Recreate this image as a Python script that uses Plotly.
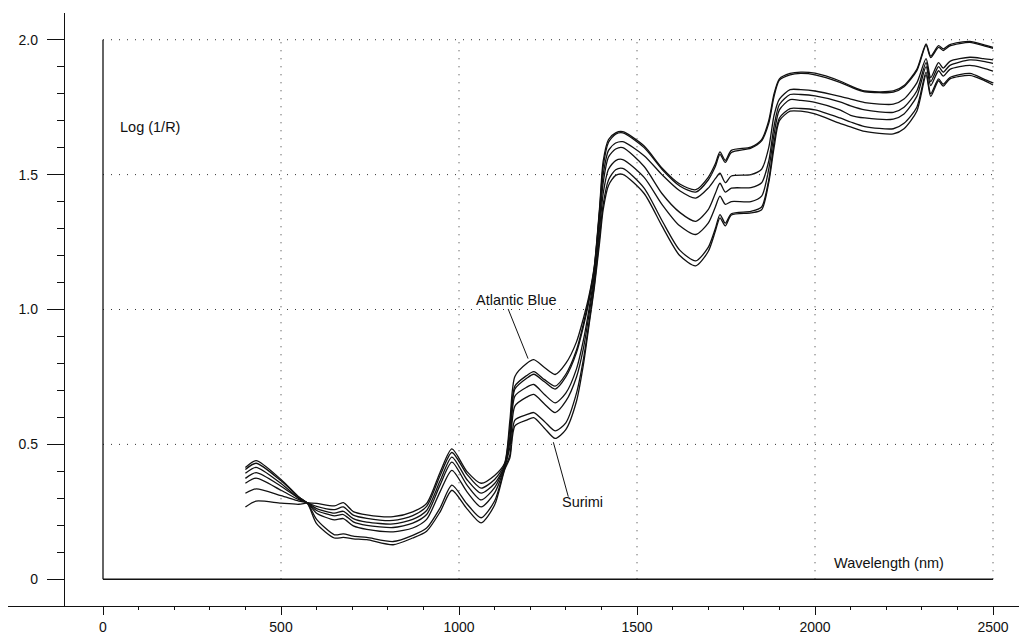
import plotly.graph_objects as go

# Wavelength sampling points (nm)
wavelength_nm = [400, 430, 500, 550, 575, 600, 650, 675, 703, 741,
                 815, 870, 909, 947, 980, 1022, 1062, 1100, 1128, 1143,
                 1157, 1190, 1210, 1240, 1270, 1300, 1330, 1350, 1365, 1380,
                 1395, 1405, 1420, 1440, 1460, 1520, 1570, 1620, 1665, 1700,
                 1720, 1733, 1748, 1765, 1820, 1850, 1870, 1885, 1900, 1930,
                 1960, 2000, 2070, 2100, 2140, 2220, 2250, 2286, 2312, 2325,
                 2347, 2360, 2379, 2435, 2473, 2500]

# Log(1/R) spectra, one list per sample
log_r_atlantic_blue = [0.268, 0.290, 0.282, 0.278, 0.283, 0.281, 0.272, 0.284, 0.251, 0.239,
                       0.232, 0.250, 0.281, 0.397, 0.483, 0.400, 0.356, 0.385, 0.430, 0.590,
                       0.752, 0.800, 0.814, 0.785, 0.759, 0.800, 0.880, 0.970, 1.050, 1.160,
                       1.380, 1.550, 1.630, 1.655, 1.659, 1.606, 1.525, 1.465, 1.444, 1.490,
                       1.540, 1.584, 1.553, 1.590, 1.602, 1.630, 1.700, 1.800, 1.855, 1.875,
                       1.880, 1.876, 1.847, 1.829, 1.810, 1.810, 1.830, 1.890, 1.985, 1.939,
                       1.978, 1.966, 1.982, 1.994, 1.982, 1.972]
log_r_sample_2 = [0.319, 0.335, 0.310, 0.290, 0.283, 0.270, 0.258, 0.268, 0.238, 0.226,
                  0.218, 0.236, 0.270, 0.385, 0.470, 0.390, 0.338, 0.370, 0.425, 0.560,
                  0.716, 0.755, 0.770, 0.740, 0.716, 0.760, 0.850, 0.950, 1.040, 1.155,
                  1.370, 1.530, 1.620, 1.650, 1.655, 1.600, 1.520, 1.458, 1.435, 1.480,
                  1.530, 1.575, 1.545, 1.582, 1.598, 1.625, 1.690, 1.790, 1.850, 1.870,
                  1.875, 1.870, 1.842, 1.825, 1.807, 1.806, 1.826, 1.885, 1.980, 1.934,
                  1.972, 1.960, 1.977, 1.990, 1.978, 1.968]
log_r_sample_3 = [0.356, 0.375, 0.330, 0.295, 0.283, 0.262, 0.245, 0.252, 0.225, 0.212,
                  0.205, 0.222, 0.255, 0.365, 0.453, 0.370, 0.319, 0.355, 0.420, 0.530,
                  0.705, 0.745, 0.760, 0.732, 0.705, 0.750, 0.840, 0.940, 1.030, 1.150,
                  1.360, 1.500, 1.590, 1.617, 1.622, 1.570, 1.500, 1.440, 1.413, 1.450,
                  1.485, 1.505, 1.470, 1.495, 1.500, 1.520, 1.600, 1.720, 1.780, 1.815,
                  1.815, 1.810, 1.790, 1.780, 1.767, 1.761, 1.780, 1.840, 1.930, 1.860,
                  1.915, 1.895, 1.920, 1.935, 1.930, 1.925]
log_r_sample_4 = [0.374, 0.395, 0.345, 0.300, 0.282, 0.255, 0.235, 0.240, 0.213, 0.200,
                  0.192, 0.208, 0.240, 0.350, 0.434, 0.350, 0.294, 0.340, 0.420, 0.510,
                  0.679, 0.712, 0.722, 0.685, 0.654, 0.690, 0.780, 0.890, 1.000, 1.130,
                  1.330, 1.470, 1.565, 1.595, 1.600, 1.530, 1.430, 1.360, 1.327, 1.370,
                  1.430, 1.468, 1.435, 1.450, 1.452, 1.470, 1.550, 1.680, 1.760, 1.797,
                  1.797, 1.792, 1.770, 1.755, 1.740, 1.731, 1.750, 1.810, 1.915, 1.845,
                  1.900, 1.880, 1.905, 1.925, 1.920, 1.912]
log_r_sample_5 = [0.393, 0.415, 0.355, 0.300, 0.282, 0.245, 0.220, 0.225, 0.198, 0.185,
                  0.176, 0.190, 0.222, 0.325, 0.404, 0.325, 0.268, 0.320, 0.415, 0.490,
                  0.642, 0.675, 0.685, 0.650, 0.618, 0.660, 0.750, 0.860, 0.980, 1.110,
                  1.300, 1.430, 1.520, 1.552, 1.556, 1.490, 1.390, 1.310, 1.278, 1.320,
                  1.380, 1.420, 1.390, 1.400, 1.400, 1.420, 1.520, 1.650, 1.740, 1.778,
                  1.775, 1.768, 1.740, 1.720, 1.710, 1.706, 1.725, 1.790, 1.900, 1.830,
                  1.885, 1.865, 1.890, 1.905, 1.895, 1.884]
log_r_sample_6 = [0.407, 0.430, 0.365, 0.305, 0.281, 0.222, 0.165, 0.168, 0.160, 0.155,
                  0.140, 0.163, 0.190, 0.265, 0.349, 0.280, 0.228, 0.290, 0.410, 0.460,
                  0.590, 0.610, 0.618, 0.585, 0.550, 0.580, 0.690, 0.820, 0.950, 1.090,
                  1.270, 1.390, 1.480, 1.518, 1.523, 1.450, 1.330, 1.220, 1.180, 1.230,
                  1.300, 1.352, 1.320, 1.355, 1.364, 1.380, 1.480, 1.620, 1.710, 1.745,
                  1.745, 1.740, 1.710, 1.695, 1.678, 1.670, 1.690, 1.750, 1.880, 1.800,
                  1.855, 1.835, 1.860, 1.875, 1.855, 1.840]
log_r_surimi = [0.414, 0.440, 0.370, 0.305, 0.280, 0.206, 0.153, 0.155, 0.150, 0.147,
                0.128, 0.153, 0.178, 0.250, 0.330, 0.262, 0.209, 0.275, 0.405, 0.450,
                0.569, 0.590, 0.599, 0.560, 0.522, 0.555, 0.660, 0.800, 0.940, 1.080,
                1.250, 1.370, 1.460, 1.497, 1.501, 1.430, 1.310, 1.200, 1.162, 1.215,
                1.290, 1.340, 1.310, 1.350, 1.358, 1.370, 1.470, 1.600, 1.700, 1.735,
                1.735, 1.725, 1.690, 1.677, 1.660, 1.651, 1.670, 1.735, 1.870, 1.790,
                1.848, 1.828, 1.855, 1.868, 1.850, 1.832]

x_tick_values = [0, 500, 1000, 1500, 2000, 2500]
x_tick_labels = ["0", "500", "1000", "1500", "2000", "2500"]
y_tick_values = [0, 0.5, 1.0, 1.5, 2.0]
y_tick_labels = ["0", "0.5", "1.0", "1.5", "2.0"]
x_minor_values = [v for v in range(100, 2500, 100) if v % 500]
y_minor_values = [round(v * 0.1, 1) for v in range(1, 20) if v % 5]

FONT = "Liberation Sans, Arial, sans-serif"
INK = "#111111"

fig = go.Figure()
for series in [log_r_atlantic_blue, log_r_sample_2, log_r_sample_3, log_r_sample_4,
               log_r_sample_5, log_r_sample_6, log_r_surimi]:
    fig.add_trace(go.Scatter(
        x=wavelength_nm, y=series, mode="lines",
        line=dict(color=INK, width=1.3, shape="spline", smoothing=0.7),
        hoverinfo="skip", showlegend=False,
    ))

shapes = []
# dotted reference grid inside the frame
for xv in x_tick_values[1:]:
    shapes.append(dict(type="line", xref="x", yref="y", x0=xv, x1=xv, y0=0, y1=2.0,
                       line=dict(color="#333333", width=1, dash="1px,7px")))
for yv in y_tick_values[1:]:
    shapes.append(dict(type="line", xref="x", yref="y", x0=0, x1=2500, y0=yv, y1=yv,
                       line=dict(color="#333333", width=1, dash="1px,7px")))
# solid inner frame (left and bottom)
shapes.append(dict(type="line", xref="x", yref="y", x0=0, x1=0, y0=0, y1=2.0,
                   line=dict(color=INK, width=1.3)))
shapes.append(dict(type="line", xref="x", yref="y", x0=0, x1=2500, y0=0, y1=0,
                   line=dict(color=INK, width=1.3)))
# leader lines for the sample labels
shapes.append(dict(type="line", xref="x", yref="y", x0=1138, y0=1.002, x1=1194, y1=0.818,
                   line=dict(color=INK, width=1)))
shapes.append(dict(type="line", xref="x", yref="y", x0=1265, y0=0.508, x1=1307, y1=0.306,
                   line=dict(color=INK, width=1)))

annotations = [
    dict(x=42, y=1.677, text="Log (1/R)", xanchor="left", yanchor="middle"),
    dict(x=2048, y=0.059, text="Wavelength (nm)", xanchor="left", yanchor="middle"),
    dict(x=1042, y=1.035, text="Atlantic Blue", xanchor="left", yanchor="middle"),
    dict(x=1284, y=0.286, text="Surimi", xanchor="left", yanchor="middle"),
]
for a in annotations:
    a.update(xref="x", yref="y", showarrow=False,
             font=dict(family=FONT, size=14.5, color=INK))

fig.update_layout(
    width=1019, height=635,
    margin=dict(l=8, r=0, t=13, b=23),
    paper_bgcolor="white", plot_bgcolor="white",
    shapes=shapes, annotations=annotations,
    font=dict(family=FONT, size=14, color=INK),
    xaxis=dict(
        range=[-266.85, 2573.0], showgrid=False, zeroline=False,
        showline=True, linecolor=INK, linewidth=1.3,
        tickmode="array", tickvals=x_tick_values, ticktext=x_tick_labels,
        ticks="outside", ticklen=8, tickwidth=1.3, tickcolor=INK,
        minor=dict(tickmode="array", tickvals=x_minor_values, ticks="outside",
                   ticklen=3, tickwidth=1.3, tickcolor=INK),
        tickfont=dict(family=FONT, size=14, color=INK),
    ),
    yaxis=dict(
        range=[-0.09908, 2.09908], showgrid=False, zeroline=False,
        anchor="free", position=56 / 1011,
        showline=True, linecolor=INK, linewidth=1.3,
        tickmode="array", tickvals=y_tick_values, ticktext=y_tick_labels,
        ticks="outside", ticklen=17, tickwidth=1.3, tickcolor=INK,
        minor=dict(tickmode="array", tickvals=y_minor_values, ticks="outside",
                   ticklen=7, tickwidth=1.3, tickcolor=INK),
        tickfont=dict(family=FONT, size=14, color=INK),
        ticklabelstandoff=6,
    ),
)

fig.write_html("out.html")
